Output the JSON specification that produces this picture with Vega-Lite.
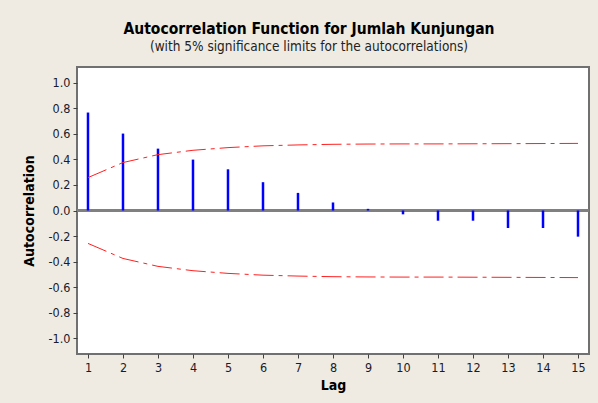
{
  "$schema": "https://vega.github.io/schema/vega-lite/v6.json",
  "width": 512,
  "height": 287,
  "autosize": "none",
  "padding": {"left": 77, "top": 67, "right": 9, "bottom": 49},
  "background": "#EFEBE2",
  "title": {
    "text": "Autocorrelation Function for Jumlah Kunjungan",
    "subtitle": "(with 5% significance limits for the autocorrelations)",
    "anchor": "middle",
    "dx": -24,
    "offset": 14,
    "font": "DejaVu Sans Condensed",
    "fontSize": 15.5,
    "fontWeight": "bold",
    "color": "#000000",
    "subtitleFont": "DejaVu Sans Condensed",
    "subtitleFontSize": 13.5,
    "subtitleColor": "#222222",
    "subtitlePadding": 2
  },
  "config": {
    "view": {"stroke": "#707070", "strokeWidth": 2, "fill": "#FFFFFF"},
    "axis": {
      "grid": false,
      "domain": false,
      "tickColor": "#404040",
      "tickSize": 4,
      "labelFont": "DejaVu Sans Condensed",
      "labelFontSize": 12.5,
      "labelColor": "#1a1a2a",
      "labelOverlap": false,
      "titleFont": "DejaVu Sans Condensed",
      "titleFontSize": 14,
      "titleFontWeight": "bold",
      "titleColor": "#000000"
    }
  },
  "data": {
    "values": [
      {"lag": 1, "acf": 0.768, "upper": 0.258, "lower": -0.258},
      {"lag": 2, "acf": 0.603, "upper": 0.376, "lower": -0.376},
      {"lag": 3, "acf": 0.485, "upper": 0.438, "lower": -0.438},
      {"lag": 4, "acf": 0.399, "upper": 0.472, "lower": -0.472},
      {"lag": 5, "acf": 0.323, "upper": 0.493, "lower": -0.493},
      {"lag": 6, "acf": 0.222, "upper": 0.507, "lower": -0.507},
      {"lag": 7, "acf": 0.138, "upper": 0.514, "lower": -0.514},
      {"lag": 8, "acf": 0.063, "upper": 0.519, "lower": -0.519},
      {"lag": 9, "acf": 0.013, "upper": 0.521, "lower": -0.521},
      {"lag": 10, "acf": -0.03, "upper": 0.522, "lower": -0.522},
      {"lag": 11, "acf": -0.08, "upper": 0.522, "lower": -0.522},
      {"lag": 12, "acf": -0.08, "upper": 0.523, "lower": -0.523},
      {"lag": 13, "acf": -0.137, "upper": 0.524, "lower": -0.524},
      {"lag": 14, "acf": -0.137, "upper": 0.525, "lower": -0.525},
      {"lag": 15, "acf": -0.205, "upper": 0.526, "lower": -0.526}
    ]
  },
  "encoding": {
    "x": {
      "field": "lag",
      "type": "quantitative",
      "scale": {"domain": [0.686, 15.314], "nice": false, "zero": false},
      "axis": {"values": [1,2,3,4,5,6,7,8,9,10,11,12,13,14,15], "title": "Lag", "titlePadding": 5, "labelPadding": 3, "labelOverlap": false}
    },
    "y": {
      "field": "acf",
      "type": "quantitative",
      "scale": {"domain": [-1.125, 1.125], "nice": false},
      "axis": {
        "values": [-1.0, -0.8, -0.6, -0.4, -0.2, 0.0, 0.2, 0.4, 0.6, 0.8, 1.0],
        "labelExpr": "replace(format(datum.value, '.1f'), '\u2212', '-')",
        "labelOverlap": false,
        "title": "Autocorrelation",
        "titlePadding": 12,
        "labelPadding": 3
      }
    }
  },
  "layer": [
    {
      "mark": {"type": "rule", "color": "#808080", "strokeWidth": 1.5},
      "encoding": {
        "x": null,
        "y": {"datum": 0, "type": "quantitative"}
      }
    },
    {
      "mark": {"type": "rule", "color": "#0000FF", "strokeWidth": 2.5},
      "encoding": {
        "y2": {"datum": 0}
      }
    },
    {
      "mark": {"type": "line", "color": "#FF2020", "strokeWidth": 1, "strokeDash": [20, 5, 4, 5]},
      "encoding": {"y": {"field": "upper", "type": "quantitative"}}
    },
    {
      "mark": {"type": "line", "color": "#FF2020", "strokeWidth": 1, "strokeDash": [20, 5, 4, 5]},
      "encoding": {"y": {"field": "lower", "type": "quantitative"}}
    }
  ]
}
